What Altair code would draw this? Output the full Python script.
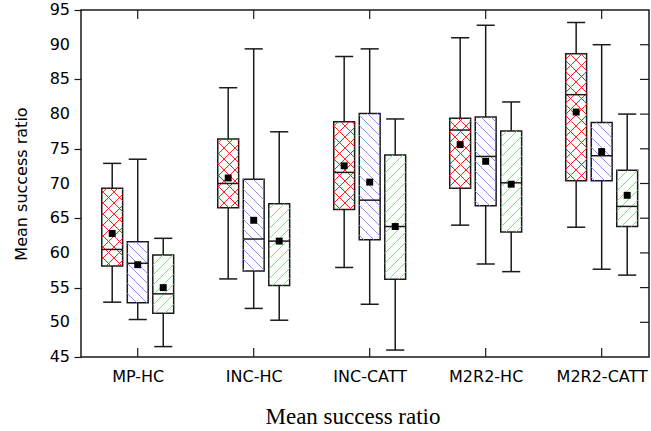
import math
import altair as alt
import pandas as pd

# ---------------- data ----------------
groups = ["MP-HC", "INC-HC", "INC-CATT", "M2R2-HC", "M2R2-CATT"]
series = ["S1", "S2", "S3"]

s1_low = [52.9, 56.25, 57.9, 64.0, 63.7]
s1_q1 = [58.1, 66.5, 66.25, 69.3, 70.4]
s1_med = [60.5, 70.0, 71.6, 77.7, 82.8]
s1_q3 = [69.3, 76.4, 78.9, 79.4, 88.7]
s1_high = [72.9, 83.8, 88.3, 91.0, 93.2]
s1_mean = [62.8, 70.8, 72.55, 75.6, 80.3]

s2_low = [50.4, 52.0, 52.6, 58.4, 57.65]
s2_q1 = [52.8, 57.4, 61.9, 66.8, 70.4]
s2_med = [58.5, 62.0, 67.6, 73.9, 74.0]
s2_q3 = [61.6, 70.6, 80.1, 79.6, 78.8]
s2_high = [73.5, 89.4, 89.4, 92.8, 90.0]
s2_mean = [58.3, 64.7, 70.2, 73.2, 74.6]

s3_low = [46.5, 50.3, 46.0, 57.3, 56.8]
s3_q1 = [51.3, 55.3, 56.2, 63.0, 63.8]
s3_med = [54.1, 61.7, 63.8, 70.1, 66.7]
s3_q3 = [59.7, 67.1, 74.1, 77.55, 71.9]
s3_high = [62.1, 77.45, 79.3, 81.75, 80.0]
s3_mean = [55.0, 61.7, 63.8, 69.9, 68.3]

y_ticks = [45, 50, 55, 60, 65, 70, 75, 80, 85, 90, 95]

# ---------------- layout / style ----------------
W, H = 568, 347
XMIN, XMAX = -0.489, 4.408
YMIN, YMAX = 45, 95
OFFSETS = [-0.22, 0.0, 0.22]
BOX_HALF = 0.09
CAP_HALF = 0.078
HATCH_COLORS = ["#ff2020", "#8c8cff", "#7ee07e"]
HATCH_DIRS = [("/", "\\"), ("\\",), ("/",)]
HATCH_SPACING = [11.0, 10.0, 10.0]
INK = "#1a1a1a"

stats = [
    (s1_low, s1_q1, s1_med, s1_q3, s1_high, s1_mean),
    (s2_low, s2_q1, s2_med, s2_q3, s2_high, s2_mean),
    (s3_low, s3_q1, s3_med, s3_q3, s3_high, s3_mean),
]

rows = []
for si, sname in enumerate(series):
    lo, q1, med, q3, hi, mn = stats[si]
    for gi, g in enumerate(groups):
        xc = gi + OFFSETS[si]
        rows.append(dict(group=g, series=sname, x=xc,
                         xl=xc - BOX_HALF, xr=xc + BOX_HALF,
                         cl=xc - CAP_HALF, cr=xc + CAP_HALF,
                         low=lo[gi], q1=q1[gi], med=med[gi], q3=q3[gi],
                         high=hi[gi], mean=mn[gi]))
df = pd.DataFrame(rows)

# hatch segments derived from each box (pixel-space 45 degree lines)
pxx = W / (XMAX - XMIN)
pxy = H / (YMAX - YMIN)


def to_u(x):
    return (x - XMIN) * pxx


def to_v(y):
    return (y - YMIN) * pxy


def from_u(u):
    return u / pxx + XMIN


def from_v(v):
    return v / pxy + YMIN


hatch_layers = []
for si, sname in enumerate(series):
    hrows = []
    for _, r in df[df["series"] == sname].iterrows():
        u0, u1 = to_u(r["xl"]), to_u(r["xr"])
        v0, v1 = to_v(r["q1"]), to_v(r["q3"])
        s = HATCH_SPACING[si]
        for d in HATCH_DIRS[si]:
            if d == "/":
                cmin, cmax = v0 - u1, v1 - u0
                for k in range(math.ceil(cmin / s), math.floor(cmax / s) + 1):
                    c = k * s
                    a, b = max(u0, v0 - c), min(u1, v1 - c)
                    if b - a > 0.3:
                        hrows.append(dict(hx=from_u(a), hy=from_v(a + c),
                                          hx2=from_u(b), hy2=from_v(b + c)))
            else:
                cmin, cmax = u0 + v0, u1 + v1
                for k in range(math.ceil(cmin / s), math.floor(cmax / s) + 1):
                    c = k * s
                    a, b = max(u0, c - v1), min(u1, c - v0)
                    if b - a > 0.3:
                        hrows.append(dict(hx=from_u(a), hy=from_v(c - a),
                                          hx2=from_u(b), hy2=from_v(c - b)))
    hatch_layers.append(pd.DataFrame(hrows))

xscale = alt.Scale(domain=[XMIN, XMAX], nice=False, zero=False)
yscale = alt.Scale(domain=[YMIN, YMAX], nice=False, zero=False)
label_expr = "[" + ",".join("'%s'" % g for g in groups) + "][datum.value]"

X_AXIS = alt.Axis(values=list(range(len(groups))), labelExpr=label_expr, ticks=False,
                  domain=False, grid=False, labelFont="DejaVu Sans", labelFontSize=16,
                  labelColor="black", labelPadding=11, labelOverlap=False,
                  title="Mean success ratio", titleFont="Liberation Serif",
                  titleFontSize=23, titleFontWeight="normal", titleColor="black",
                  titleX=271.5, titleY=66, titleAlign="center", titleBaseline="alphabetic")
Y_AXIS = alt.Axis(values=y_ticks, tickSize=7, tickColor=INK, tickWidth=1.2, domain=False,
                  grid=False, labels=False,
                  title="Mean success ratio", titleFont="DejaVu Sans",
                  titleFontSize=16, titleFontWeight="normal", titleColor="black",
                  titlePadding=44)

base = alt.Chart(df)

box = base.mark_rect(fillOpacity=0, stroke=INK, strokeWidth=1.5).encode(
    x=alt.X("xl:Q", scale=xscale, axis=X_AXIS), x2="xr:Q",
    y=alt.Y("q1:Q", scale=yscale, axis=Y_AXIS), y2="q3:Q")

hatches = [
    alt.Chart(hatch_layers[i]).mark_rule(strokeWidth=1, stroke=HATCH_COLORS[i],
                                         color=HATCH_COLORS[i]).encode(
        x=alt.X("hx:Q", scale=xscale), y=alt.Y("hy:Q", scale=yscale),
        x2="hx2:Q", y2="hy2:Q")
    for i in range(len(series))
]

whisk_lo = base.mark_rule(color=INK, strokeWidth=1.5).encode(
    x=alt.X("x:Q", scale=xscale), y=alt.Y("low:Q", scale=yscale), y2="q1:Q")
whisk_hi = base.mark_rule(color=INK, strokeWidth=1.5).encode(
    x=alt.X("x:Q", scale=xscale), y=alt.Y("q3:Q", scale=yscale), y2="high:Q")
cap_lo = base.mark_rule(color=INK, strokeWidth=1.5).encode(
    x=alt.X("cl:Q", scale=xscale), x2="cr:Q", y=alt.Y("low:Q", scale=yscale))
cap_hi = base.mark_rule(color=INK, strokeWidth=1.5).encode(
    x=alt.X("cl:Q", scale=xscale), x2="cr:Q", y=alt.Y("high:Q", scale=yscale))
median = base.mark_rule(color=INK, strokeWidth=1.5).encode(
    x=alt.X("xl:Q", scale=xscale), x2="xr:Q", y=alt.Y("med:Q", scale=yscale))
mean = base.mark_square(size=48, color="black", opacity=1).encode(
    x=alt.X("x:Q", scale=xscale), y=alt.Y("mean:Q", scale=yscale))

# inside ticks (bottom, top, right) and y tick labels
gtick = pd.DataFrame({"gi": list(range(len(groups)))})
ytick = pd.DataFrame({"v": y_ticks})
ytick_inner = pd.DataFrame({"v": y_ticks[1:-1]})
tick_bottom = alt.Chart(gtick).mark_rule(color=INK, strokeWidth=1.2).encode(
    x=alt.X("gi:Q", scale=xscale), y=alt.value(H), y2=alt.value(H - 9))
tick_top = alt.Chart(gtick).mark_rule(color=INK, strokeWidth=1.2).encode(
    x=alt.X("gi:Q", scale=xscale), y=alt.value(0), y2=alt.value(9))
tick_right = alt.Chart(ytick_inner).mark_rule(color=INK, strokeWidth=1.2).encode(
    y=alt.Y("v:Q", scale=yscale), x=alt.value(W), x2=alt.value(W - 9))
ylabels = alt.Chart(ytick).mark_text(
    align="right", baseline="middle", font="DejaVu Sans", fontSize=16, color="black"
).encode(
    y=alt.Y("v:Q", scale=yscale), x=alt.value(-11), text=alt.Text("v:Q", format="d"))

chart = alt.layer(
    box, *hatches, whisk_lo, whisk_hi, cap_lo, cap_hi, median, mean,
    tick_bottom, tick_top, tick_right, ylabels,
).properties(
    width=W, height=H,
    autosize=alt.AutoSizeParams(type="none"),
    padding={"left": 81, "top": 10, "right": 2, "bottom": 74},
    background="white",
).configure_view(
    stroke=INK, strokeWidth=1.5, clip=False
).configure_axis(
    labelOverlap=False
)

chart.save("out.html", embed_options={"renderer": "svg", "actions": False})
